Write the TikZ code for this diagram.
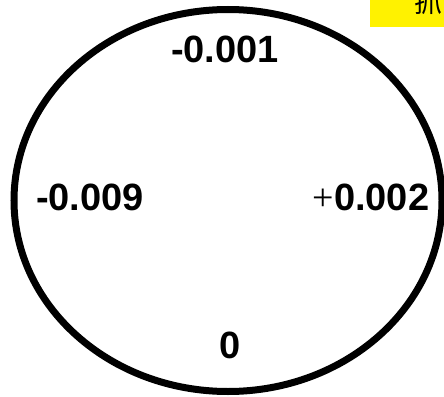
\documentclass[tikz,border=0pt]{standalone}
\usepackage{fontspec}
\setmainfont{Liberation Sans}
\newfontfamily\cjk{Noto Sans CJK SC}
\newfontfamily\plusfont{Liberation Serif}
\begin{document}
\begin{tikzpicture}[x=1pt,y=1pt,
  val/.style={font=\fontsize{38}{38}\selectfont\bfseries, inner sep=0pt, anchor=center},
  tag/.style={fill=yellow, inner sep=0pt}]
\useasboundingbox (0,0) rectangle (444,-396);
\clip (0,0) rectangle (444,-396);
\draw[line width=7pt] (228,-200.5) ellipse [x radius=214, y radius=191];
\node[val] (top) at (225,-49) {-0.001};
\node[val] (left) at (90,-197) {-0.009};
\node[val] (right) at (371,-197) {{\plusfont\mdseries +}0.002};
\node[val] (bottom) at (230,-345) {0};
\fill[yellow] (370,10) rectangle (450,-27);
\node[font=\cjk\fontsize{28}{28}\selectfont, anchor=base west, inner sep=0pt] (tag) at (414,-13) {抓};
\end{tikzpicture}
\end{document}
